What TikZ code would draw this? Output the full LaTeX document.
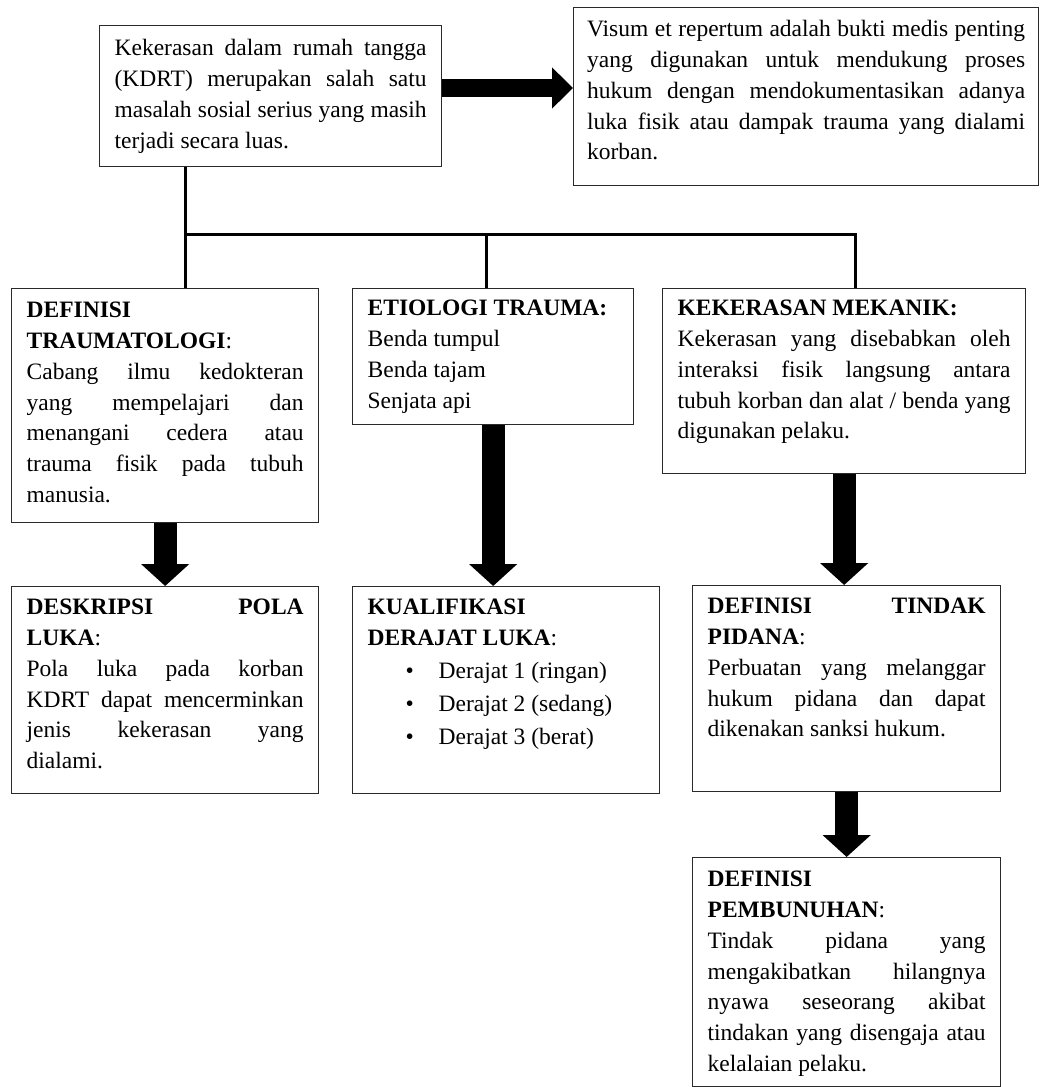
\documentclass[tikz,border=0pt]{standalone}
\usepackage{fontspec}
\setmainfont{Liberation Serif}
\usetikzlibrary{arrows.meta}
\definecolor{bordercol}{HTML}{2A2A2A}
\newcommand\mainf{\fontsize{23.5pt}{30.8pt}\selectfont}
\newcommand\JL[1]{\hbox to \hsize{\spaceskip=.25em plus 1fil minus .08em\xspaceskip=\spaceskip\strut #1}}
\newcommand\LL[1]{\hbox to \hsize{\strut #1\hfil}}
\begin{document}
\begin{tikzpicture}[x=1pt,y=-1pt,
  pbox/.style={draw=bordercol, line width=1.3pt, anchor=north west, inner xsep=15pt, inner ysep=0pt, font=\mainf, fill=white},
  tree/.style={line width=3pt, black},
  bigarrow/.style={line width=23pt, black, -{Triangle[length=22pt,width=47pt]}},
  harrow/.style={line width=18pt, black, -{Triangle[length=21pt,width=40pt]}}]
\useasboundingbox[fill=white] (0,0) rectangle (1039,1087);

\node[pbox, text height=30pt, text depth=111pt] (A) at (99,25) {\vtop{\hsize=312pt
  \JL{Kekerasan dalam rumah tangga}
  \JL{(KDRT) merupakan salah satu}
  \JL{masalah sosial serius yang masih}
  \LL{terjadi secara luas.}}};

\node[pbox, inner xsep=13.5pt, text height=29pt, text depth=149pt] (B) at (573,7) {\vtop{\hsize=438pt
  \JL{Visum et repertum adalah bukti medis penting}
  \JL{yang digunakan untuk mendukung proses}
  \JL{hukum dengan mendokumentasikan adanya}
  \JL{luka fisik atau dampak trauma yang dialami}
  \LL{korban.}}};

\node[pbox, text height=29pt, text depth=205pt] (n1) at (11,288) {\vtop{\hsize=277pt
  \LL{\textbf{DEFINISI}}
  \LL{\textbf{TRAUMATOLOGI}:}
  \JL{Cabang ilmu kedokteran}
  \JL{yang mempelajari dan}
  \JL{menangani cedera atau}
  \JL{trauma fisik pada tubuh}
  \LL{manusia.}}};

\node[pbox, text height=27pt, text depth=109pt] (n2) at (352,288) {\vtop{\hsize=251pt
  \LL{\textbf{ETIOLOGI TRAUMA:}}
  \LL{Benda tumpul}
  \LL{Benda tajam}
  \LL{Senjata api}}};

\node[pbox, text height=27pt, text depth=158pt] (n3) at (662,288) {\vtop{\hsize=333pt
  \LL{\textbf{KEKERASAN MEKANIK:}}
  \JL{Kekerasan yang disebabkan oleh}
  \JL{interaksi fisik langsung antara}
  \JL{tubuh korban dan alat / benda yang}
  \LL{digunakan pelaku.}}};

\node[pbox, text height=28pt, text depth=179pt] (n4) at (11,586) {\vtop{\hsize=277pt
  \JL{\textbf{DESKRIPSI} \textbf{POLA}}
  \LL{\textbf{LUKA}:}
  \JL{Pola luka pada korban}
  \JL{KDRT dapat mencerminkan}
  \JL{jenis kekerasan yang}
  \LL{dialami.}}};

\node[pbox, text height=28pt, text depth=179pt] (n5) at (352,586) {\vtop{\hsize=277pt
  \LL{\textbf{KUALIFIKASI}}
  \LL{\textbf{DERAJAT LUKA}:}
  \baselineskip=33pt
  \LL{\kern38pt\makebox[33pt][l]{\textbullet}Derajat 1 (ringan)}
  \LL{\kern38pt\makebox[33pt][l]{\textbullet}Derajat 2 (sedang)}
  \LL{\kern38pt\makebox[33pt][l]{\textbullet}Derajat 3 (berat)}}};

\node[pbox, text height=28pt, text depth=178pt] (n6) at (692,585) {\vtop{\hsize=278pt
  \JL{\textbf{DEFINISI} \textbf{TINDAK}}
  \LL{\textbf{PIDANA}:}
  \JL{Perbuatan yang melanggar}
  \JL{hukum pidana dan dapat}
  \LL{dikenakan sanksi hukum.}}};

\node[pbox, text height=29pt, text depth=200pt] (n7) at (692,857) {\vtop{\hsize=278pt
  \LL{\textbf{DEFINISI}}
  \LL{\textbf{PEMBUNUHAN}:}
  \JL{Tindak pidana yang}
  \JL{mengakibatkan hilangnya}
  \JL{nyawa seseorang akibat}
  \JL{tindakan yang disengaja atau}
  \LL{kelalaian pelaku.}}};

% tree connectors
\coordinate (bl) at (185,234);
\coordinate (bm) at (486,234);
\coordinate (br) at (855,234);
\coordinate (hy) at (0,88);
\draw[tree] (A.south -| bl) -- (n1.north -| bl);
\draw[tree, line join=miter] (bl) -- (br) -- (n3.north -| br);
\draw[tree] (bm) -- (n2.north -| bm);

% block arrows
\draw[harrow] (A.east |- hy) -- (B.west |- hy);
\draw[bigarrow] (n1.south) -- (n4.north -| n1.south);
\draw[bigarrow] (n2.south) -- (n5.north -| n2.south);
\draw[bigarrow] (n3.south) -- (n6.north -| n3.south);
\draw[bigarrow] (n6.south) -- (n7.north);
\end{tikzpicture}
\end{document}
